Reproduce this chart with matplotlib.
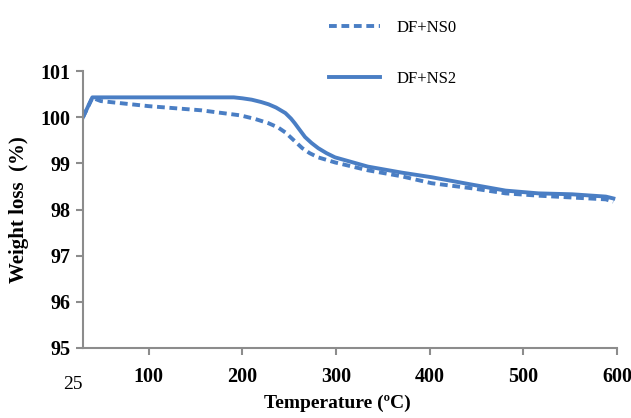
import matplotlib.pyplot as plt

# =========================
# DATA (TGA curves)
# =========================
temp_ns0 = [30, 40, 49, 100, 156, 198, 214, 228, 238, 246, 255, 264, 272, 281, 299, 334, 370, 402, 445, 481, 516, 552, 588, 596]
wt_ns0   = [100.0, 100.42, 100.35, 100.24, 100.15, 100.04, 99.96, 99.87, 99.78, 99.67, 99.50, 99.33, 99.22, 99.13, 99.02, 98.85, 98.72, 98.57, 98.46, 98.35, 98.30, 98.26, 98.22, 98.17]

temp_ns2 = [30, 40, 100, 170, 191, 200, 210, 220, 228, 236, 246, 252, 256, 260, 267, 274, 281, 290, 299, 334, 370, 402, 445, 481, 516, 552, 588, 596]
wt_ns2   = [100.0, 100.43, 100.43, 100.43, 100.43, 100.41, 100.38, 100.33, 100.28, 100.21, 100.09, 99.97, 99.87, 99.76, 99.57, 99.44, 99.33, 99.22, 99.13, 98.93, 98.80, 98.70, 98.54, 98.41, 98.35, 98.33, 98.28, 98.24]

xticks = [100, 200, 300, 400, 500, 600]
yticks = [95, 96, 97, 98, 99, 100, 101]

blue = "#4A7EC4"
grey = "#8C8C8C"

# =========================
# PLOT
# =========================
fig = plt.figure(figsize=(6.31, 4.18), dpi=100)
ax = fig.add_axes([0.1315, 0.1675, 0.8465, 0.6625])

ax.plot(temp_ns0, wt_ns0, color=blue, linewidth=2.8, linestyle=(0, (2.0, 1.2)), label="DF+NS0")
ax.plot(temp_ns2, wt_ns2, color=blue, linewidth=2.8, label="DF+NS2")

ax.set_xlim(30, 600)
ax.set_ylim(95, 101)
ax.set_xticks(xticks)
ax.set_yticks(yticks)

for side in ["top", "right"]:
    ax.spines[side].set_visible(False)
for side in ["left", "bottom"]:
    ax.spines[side].set_color(grey)
    ax.spines[side].set_linewidth(1.5)
ax.tick_params(colors=grey, width=1.5, length=5, labelcolor="black")

serif = "Liberation Serif"
for lab in ax.get_xticklabels() + ax.get_yticklabels():
    lab.set_fontfamily(serif)
    lab.set_fontweight("bold")
    lab.set_fontsize(14.5)
ax.tick_params(axis="x", pad=9)
ax.tick_params(axis="y", pad=4)

# starting temperature label
ax.text(19, 94.4, "25", fontfamily=serif, fontsize=14, ha="center", va="top", clip_on=False)

ax.set_xlabel("Temperature (ºC)", fontfamily=serif, fontweight="bold", fontsize=14, labelpad=8)
ax.xaxis.set_label_coords(0.476, -0.17)
ax.set_ylabel("Weight loss  (%)", fontfamily=serif, fontweight="bold", fontsize=15, labelpad=8)

ax.legend(loc="upper left", bbox_to_anchor=(0.497, 0.988), bbox_transform=fig.transFigure,
          frameon=False, prop={"family": serif, "size": 12},
          handlelength=3.1, handletextpad=1.0, labelspacing=2.1)

plt.savefig("out.png", dpi=100)
